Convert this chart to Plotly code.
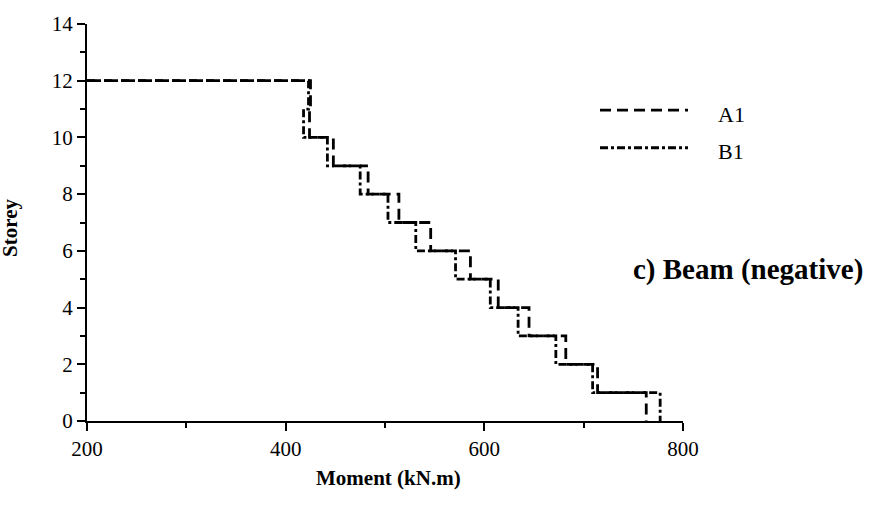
import plotly.graph_objects as go

# Storey-wise negative beam moments (kN.m) for two frames
storeys = [1, 2, 3, 4, 5, 6, 7, 8, 9, 10, 11, 12]
moment_a1 = [763, 714, 682, 645, 614, 586, 546, 514, 483, 448, 424, 425]
moment_b1 = [777, 709, 672, 634, 606, 571, 531, 503, 475, 442, 418, 423]
series_names = ["A1", "B1"]

x_range = [200, 800]
y_range = [0, 14]
x_ticks = [200, 400, 600, 800]
y_ticks = [0, 2, 4, 6, 8, 10, 12, 14]

FONT = "Liberation Serif"
W, H = 894, 511
ML, MR, MT, MB = 87, 211, 20, 90
PW = W - ML - MR
PH = H - MT - MB


def px_x(p):
    return (p - ML) / PW


def px_y(p):
    return (H - MB - p) / PH


def step_path(values):
    # roof line starts at the left axis, then one step per storey down to the base
    xs = [x_range[0]] + values[::-1]
    ys = [storeys[-1]] + [s - 1 for s in storeys[::-1]]
    return xs, ys


dash_a1 = "11px,6px"
dash_b1 = "8px,3px,3px,3px"
LW = 2.8

fig = go.Figure()
for name, vals, dash in [(series_names[0], moment_a1, dash_a1),
                         (series_names[1], moment_b1, dash_b1)]:
    xs, ys = step_path(vals)
    fig.add_trace(go.Scatter(
        x=xs, y=ys, name=name, mode="lines",
        line=dict(shape="hv", color="black", width=LW, dash=dash),
        showlegend=False, cliponaxis=False,
    ))

axis_common = dict(
    showline=True, linecolor="black", linewidth=2.2,
    ticks="outside", ticklen=8, tickwidth=2, tickcolor="black",
    showgrid=False, zeroline=False,
    tickfont=dict(family=FONT, size=21, color="black"),
)

fig.update_xaxes(range=x_range, tickvals=x_ticks,
                 minor=dict(ticks="outside", ticklen=5, tickwidth=2,
                            tickcolor="black", dtick=100, showgrid=False),
                 **axis_common)
fig.update_yaxes(range=y_range, tickvals=y_ticks,
                 minor=dict(ticks="outside", ticklen=5, tickwidth=2,
                            tickcolor="black", dtick=1, showgrid=False),
                 **axis_common)

annotations = [
    dict(text="<b>Moment (kN.m)</b>", xref="paper", yref="paper",
         x=px_x(388), y=px_y(479), xanchor="center", yanchor="middle",
         showarrow=False, font=dict(family=FONT, size=21, color="black")),
    dict(text="<b>Storey</b>", xref="paper", yref="paper",
         x=px_x(10), y=px_y(226), xanchor="center", yanchor="middle",
         textangle=-90, showarrow=False,
         font=dict(family=FONT, size=21, color="black")),
    dict(text="<b>c) Beam (negative)</b>", xref="paper", yref="paper",
         x=px_x(748), y=px_y(268), xanchor="center", yanchor="middle",
         showarrow=False, font=dict(family=FONT, size=29, color="black")),
]

shapes = []
legend_rows = [(series_names[0], dash_a1, 107), (series_names[1], dash_b1, 145)]
for name, dash, ypix in legend_rows:
    shapes.append(dict(type="line", xref="paper", yref="paper",
                       x0=px_x(600), x1=px_x(688), y0=px_y(ypix), y1=px_y(ypix),
                       line=dict(color="black", width=LW, dash=dash)))
    annotations.append(dict(text=name, xref="paper", yref="paper",
                            x=px_x(716), y=px_y(ypix + 4), xanchor="left",
                            yanchor="middle", showarrow=False,
                            font=dict(family=FONT, size=22, color="black")))

fig.update_layout(
    width=W, height=H,
    margin=dict(l=ML, r=MR, t=MT, b=MB),
    paper_bgcolor="white", plot_bgcolor="white",
    annotations=annotations, shapes=shapes,
    showlegend=False,
)

fig.write_html("out.html")
